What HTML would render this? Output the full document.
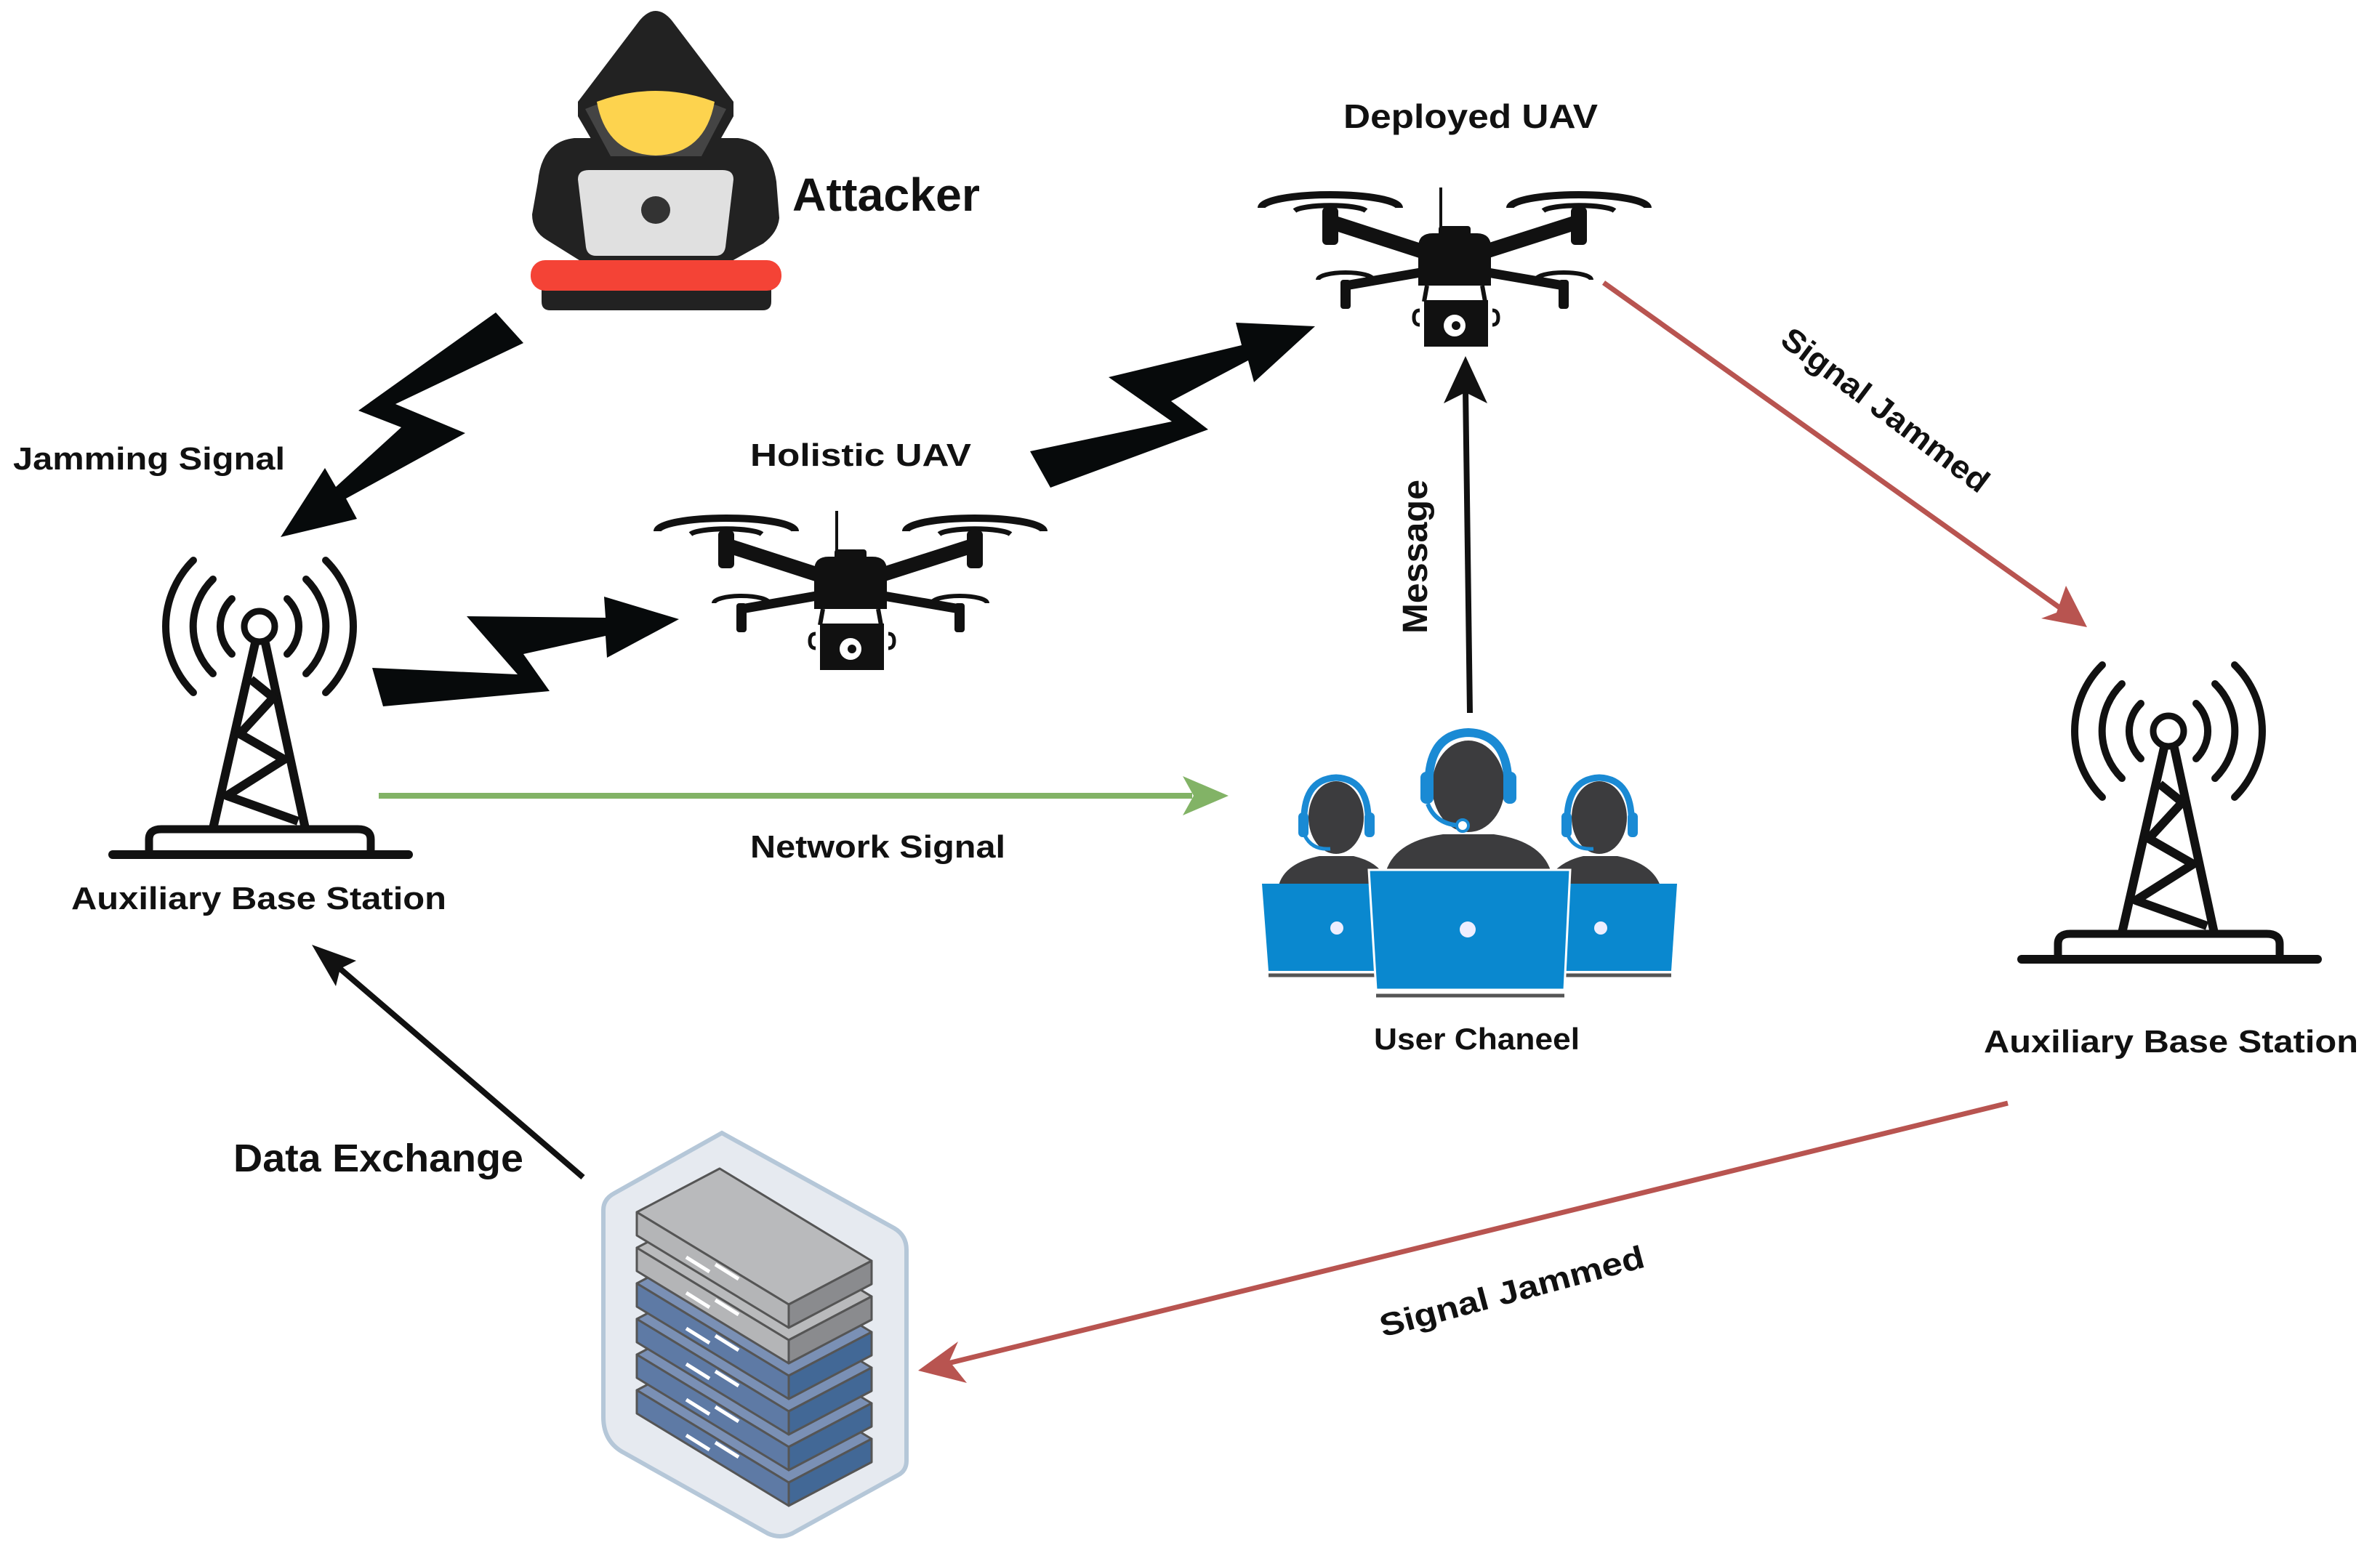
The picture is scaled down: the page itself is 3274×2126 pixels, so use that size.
<!DOCTYPE html>
<html><head><meta charset="utf-8"><style>
html,body{margin:0;padding:0;background:#fff;}
svg{display:block;}
text{font-family:"Liberation Sans",Arial,sans-serif;font-weight:bold;fill:#111;}
</style></head><body>
<svg width="3274" height="2126" viewBox="0 0 3274 2126" xmlns="http://www.w3.org/2000/svg">
<defs>
<g id="tower">
  <g fill="none" stroke="#111" stroke-width="10" stroke-linecap="round">
    <path d="M319,824 A53,53 0 0 0 319,900"/><path d="M395,824 A53,53 0 0 1 395,900"/>
    <path d="M293,797 A91,91 0 0 0 293,927"/><path d="M421,797 A91,91 0 0 1 421,927"/>
    <path d="M266,771 A128,128 0 0 0 266,953"/><path d="M448,771 A128,128 0 0 1 448,953"/>
  </g>
  <g stroke="#111" stroke-width="12" fill="none" stroke-linejoin="round">
    <path d="M351,885 L293,1140 M365,885 L420,1140"/>
    <path d="M345,935 L376,960 L330,1010 L391,1045 L312,1095 L410,1130"/>
  </g>
  <circle cx="357" cy="862" r="21" fill="#fff" stroke="#111" stroke-width="9"/>
  <path d="M205,1172 L205,1155 Q205,1141 222,1141 L492,1141 Q510,1141 510,1155 L510,1172" fill="none" stroke="#111" stroke-width="11"/>
  <line x1="155" y1="1176" x2="562" y2="1176" stroke="#111" stroke-width="12" stroke-linecap="round"/>
</g>
<g id="drone">
  <line x1="1151" y1="703" x2="1151" y2="775" stroke="#111" stroke-width="4"/>
  <g fill="none" stroke="#111">
    <path d="M904,731 A95,18 0 0 1 1094,731" stroke-width="10"/>
    <path d="M950,735 A50,9 0 0 1 1048,735" stroke-width="7"/>
    <path d="M1246,731 A95,18 0 0 1 1436,731" stroke-width="10"/>
    <path d="M1292,735 A50,9 0 0 1 1390,735" stroke-width="7"/>
    <path d="M982,830 A38,10 0 0 1 1058,830" stroke-width="6"/>
    <path d="M1282,830 A38,10 0 0 1 1358,830" stroke-width="6"/>
  </g>
  <g stroke="#111" stroke-linecap="round">
    <line x1="999" y1="750" x2="1169" y2="805" stroke-width="20"/>
    <line x1="1341" y1="750" x2="1169" y2="805" stroke-width="20"/>
    <line x1="1020" y1="838" x2="1169" y2="812" stroke-width="13"/>
    <line x1="1320" y1="838" x2="1169" y2="812" stroke-width="13"/>
  </g>
  <rect x="988" y="730" width="22" height="52" rx="6" fill="#111"/>
  <rect x="1330" y="730" width="22" height="52" rx="6" fill="#111"/>
  <rect x="1013" y="830" width="14" height="40" rx="4" fill="#111"/>
  <rect x="1313" y="830" width="14" height="40" rx="4" fill="#111"/>
  <rect x="1148" y="756" width="44" height="16" rx="4" fill="#111"/>
  <path d="M1120,838 L1120,785 Q1120,766 1140,766 L1200,766 Q1220,766 1220,785 L1220,838 Z" fill="#111"/>
  <path d="M1132,838 L1128,860 M1208,838 L1212,860" stroke="#111" stroke-width="6"/>
  <path d="M1122,872 Q1114,872 1114,882 Q1114,892 1122,892 M1222,872 Q1230,872 1230,882 Q1230,892 1222,892" stroke="#111" stroke-width="5" fill="none"/>
  <rect x="1128" y="858" width="88" height="64" fill="#111"/>
  <circle cx="1170" cy="893" r="15" fill="#fff"/>
  <circle cx="1172" cy="893" r="6" fill="#111"/>
</g>
</defs>

<!-- Attacker -->
<path d="M795,160 L795,140 L880,28 Q902,2 924,28 L1009,140 L1009,160 L975,220 L830,220 Z" fill="#222"/>
<path d="M740,250 Q745,195 790,190 L1015,190 Q1060,195 1068,250 L1072,300 Q1070,320 1050,335 L1005,360 L800,360 L752,330 Q732,318 732,295 Z" fill="#222"/>
<path d="M805,150 Q902,110 999,150 L965,215 L840,215 Z" fill="#444"/>
<path d="M821,140 Q902,110 983,140 Q970,212 902,214 Q834,212 821,140 Z" fill="#fdd34e"/>
<path d="M795,247 Q795,234 810,234 L994,234 Q1009,234 1009,247 L998,340 Q996,352 984,352 L820,352 Q808,352 806,340 Z" fill="#e0e0e0"/>
<ellipse cx="902" cy="289" rx="20" ry="19" fill="#333"/>
<path d="M745,395 L1061,395 L1061,415 Q1061,427 1049,427 L757,427 Q745,427 745,415 Z" fill="#222"/>
<rect x="730" y="358" width="345" height="42" rx="20" fill="#f44336"/>
<text x="1090" y="290" font-size="64" textLength="258" lengthAdjust="spacingAndGlyphs">Attacker</text>

<!-- Jamming bolts -->
<polygon fill="#070a0b" points="682,430 720,472 544,556 640,596 476,686 491,714 386,739 447,644 462,670 552,588 493,565"/>
<polygon fill="#070a0b" points="512,919 712,928 642,848 833,850 831,821 934,852 835,905 833,875 720,900 756,951 527,972"/>
<polygon fill="#070a0b" points="1417,621 1612,580 1525,519 1708,475 1700,444 1809,449 1725,526 1717,496 1611,552 1662,591 1445,671"/>

<text x="18" y="646" font-size="44" textLength="374" lengthAdjust="spacingAndGlyphs">Jamming Signal</text>
<text x="1032" y="641" font-size="44" textLength="304" lengthAdjust="spacingAndGlyphs">Holistic UAV</text>
<text x="1848" y="176" font-size="46" textLength="350" lengthAdjust="spacingAndGlyphs">Deployed UAV</text>

<!-- Towers -->
<use href="#tower"/>
<use href="#tower" transform="translate(2626,144)"/>
<text x="98" y="1251" font-size="44" textLength="516" lengthAdjust="spacingAndGlyphs">Auxiliary Base Station</text>
<text x="2729" y="1448" font-size="44" textLength="515" lengthAdjust="spacingAndGlyphs">Auxiliary Base Station</text>

<!-- Drones -->
<use href="#drone"/>
<use href="#drone" transform="translate(831,-445)"/>

<!-- Network signal -->
<line x1="521" y1="1095" x2="1640" y2="1095" stroke="#82b366" stroke-width="8"/>
<polygon points="1690,1095 1627,1068 1642,1095 1627,1122" fill="#82b366"/>
<text x="1032" y="1180" font-size="44" textLength="351" lengthAdjust="spacingAndGlyphs">Network Signal</text>

<!-- Message arrow -->
<line x1="2022" y1="981" x2="2016" y2="535" stroke="#111" stroke-width="8"/>
<polygon points="2016,490 1986,555 2016,540 2046,555" fill="#111"/>
<text transform="translate(1963,766) rotate(-90)" x="0" y="0" text-anchor="middle" font-size="48" textLength="212" lengthAdjust="spacingAndGlyphs">Message</text>

<!-- User channel -->
<g>
  <ellipse cx="1838" cy="1125" rx="38" ry="50" fill="#3c3c3e"/>
  <path d="M1758,1222 Q1765,1188 1815,1178 L1862,1178 Q1905,1188 1910,1222 Z" fill="#3c3c3e"/>
  <path d="M1794,1140 Q1790,1072 1838,1070 Q1886,1072 1882,1140" fill="none" stroke="#1a8ad4" stroke-width="9"/>
  <rect x="1786" y="1118" width="14" height="34" rx="6" fill="#1a8ad4"/>
  <rect x="1877" y="1118" width="14" height="34" rx="6" fill="#1a8ad4"/>
  <path d="M1795,1150 Q1805,1170 1830,1168" fill="none" stroke="#1a8ad4" stroke-width="5"/>
  <polygon points="1736,1216 1893,1216 1893,1336 1745,1336" fill="#0a88cf"/>
  <circle cx="1839" cy="1277" r="9" fill="#eef"/>
  <line x1="1745" y1="1342" x2="1893" y2="1342" stroke="#555" stroke-width="5"/>
  <ellipse cx="2200" cy="1125" rx="38" ry="50" fill="#3c3c3e"/>
  <path d="M2125,1222 Q2135,1188 2178,1178 L2225,1178 Q2275,1188 2285,1222 Z" fill="#3c3c3e"/>
  <path d="M2156,1140 Q2152,1072 2200,1070 Q2248,1072 2244,1140" fill="none" stroke="#1a8ad4" stroke-width="9"/>
  <rect x="2148" y="1118" width="14" height="34" rx="6" fill="#1a8ad4"/>
  <rect x="2239" y="1118" width="14" height="34" rx="6" fill="#1a8ad4"/>
  <path d="M2157,1150 Q2167,1170 2192,1168" fill="none" stroke="#1a8ad4" stroke-width="5"/>
  <polygon points="2145,1216 2307,1216 2299,1336 2145,1336" fill="#0a88cf"/>
  <circle cx="2202" cy="1277" r="9" fill="#eef"/>
  <line x1="2145" y1="1342" x2="2299" y2="1342" stroke="#555" stroke-width="5"/>
  <ellipse cx="2020" cy="1082" rx="50" ry="63" fill="#3c3c3e"/>
  <path d="M1905,1205 Q1915,1158 1985,1148 L2055,1148 Q2125,1158 2135,1205 Z" fill="#3c3c3e"/>
  <path d="M1966,1095 Q1960,1010 2020,1008 Q2080,1010 2074,1095" fill="none" stroke="#1a8ad4" stroke-width="12"/>
  <rect x="1954" y="1062" width="18" height="44" rx="8" fill="#1a8ad4"/>
  <rect x="2068" y="1062" width="18" height="44" rx="8" fill="#1a8ad4"/>
  <path d="M1964,1106 Q1975,1135 2010,1136" fill="none" stroke="#1a8ad4" stroke-width="6"/>
  <circle cx="2012" cy="1136" r="8" fill="#fff" stroke="#1a8ad4" stroke-width="4"/>
  <polygon points="1883,1197 2160,1197 2152,1362 1893,1362" fill="#0a88cf" stroke="#fff" stroke-width="3"/>
  <circle cx="2019" cy="1279" r="11" fill="#eef"/>
  <line x1="1893" y1="1370" x2="2152" y2="1370" stroke="#555" stroke-width="5"/>
</g>
<text x="1890" y="1444" font-size="42" textLength="283" lengthAdjust="spacingAndGlyphs">User Chaneel</text>

<!-- Signal jammed 1 -->
<line x1="2206" y1="389" x2="2850" y2="848" stroke="#b85450" stroke-width="7"/>
<polygon points="2871,863 2808,851 2829,843 2842,806" fill="#b85450"/>
<text transform="translate(2593,565) rotate(37)" x="0" y="14" text-anchor="middle" font-size="44" textLength="345" lengthAdjust="spacingAndGlyphs">Signal Jammed</text>

<!-- Signal jammed 2 -->
<line x1="2762" y1="1518" x2="1300" y2="1877" stroke="#b85450" stroke-width="7"/>
<polygon points="1263,1886 1318,1846 1306,1873 1330,1903" fill="#b85450"/>
<text transform="translate(2080,1778) rotate(-15)" x="0" y="14" text-anchor="middle" font-size="44" textLength="375" lengthAdjust="spacingAndGlyphs">Signal Jammed</text>

<!-- Data exchange -->
<line x1="802" y1="1620" x2="455" y2="1322" stroke="#111" stroke-width="8"/>
<polygon points="429,1300 490,1322 468,1333 462,1357" fill="#111"/>
<text x="321" y="1612" font-size="54" textLength="399" lengthAdjust="spacingAndGlyphs">Data Exchange</text>

<!-- Server -->
<path d="M993,1559 L1230,1690 Q1247,1700 1247,1720 L1247,2010 Q1247,2024 1235,2030 L1090,2110 Q1073,2118 1056,2110 L860,2000 Q830,1985 830,1950 L830,1665 Q830,1650 845,1642 Z" fill="#e6eaf0" stroke="#b5c7d8" stroke-width="6"/>
<g stroke="#555" stroke-width="3" stroke-linejoin="round">
  <g transform="translate(0,245)">
    <polygon points="876,1668 990,1608 1199,1735 1085,1795" fill="#7a90b5"/>
    <polygon points="876,1668 1085,1795 1085,1827 876,1700" fill="#5e7aa5"/>
    <polygon points="1085,1795 1199,1735 1199,1767 1085,1827" fill="#426896"/>
  </g>
  <g transform="translate(0,196)">
    <polygon points="876,1668 990,1608 1199,1735 1085,1795" fill="#7a90b5"/>
    <polygon points="876,1668 1085,1795 1085,1827 876,1700" fill="#5e7aa5"/>
    <polygon points="1085,1795 1199,1735 1199,1767 1085,1827" fill="#426896"/>
  </g>
  <g transform="translate(0,147)">
    <polygon points="876,1668 990,1608 1199,1735 1085,1795" fill="#7a90b5"/>
    <polygon points="876,1668 1085,1795 1085,1827 876,1700" fill="#5e7aa5"/>
    <polygon points="1085,1795 1199,1735 1199,1767 1085,1827" fill="#426896"/>
  </g>
  <g transform="translate(0,98)">
    <polygon points="876,1668 990,1608 1199,1735 1085,1795" fill="#7a90b5"/>
    <polygon points="876,1668 1085,1795 1085,1827 876,1700" fill="#5e7aa5"/>
    <polygon points="1085,1795 1199,1735 1199,1767 1085,1827" fill="#426896"/>
  </g>
  <g transform="translate(0,49)">
    <polygon points="876,1668 990,1608 1199,1735 1085,1795" fill="#b9babc"/>
    <polygon points="876,1668 1085,1795 1085,1827 876,1700" fill="#b4b5b7"/>
    <polygon points="1085,1795 1199,1735 1199,1767 1085,1827" fill="#8a8b8e"/>
  </g>
  <g>
    <polygon points="876,1668 990,1608 1199,1735 1085,1795" fill="#b9babc"/>
    <polygon points="876,1668 1085,1795 1085,1827 876,1700" fill="#b4b5b7"/>
    <polygon points="1085,1795 1199,1735 1199,1767 1085,1827" fill="#8a8b8e"/>
  </g>
</g>
<g stroke="#fff" stroke-width="5">
  <path d="M944,1730 L976,1750 M984,1740 L1016,1760"/>
  <path d="M944,1779 L976,1799 M984,1789 L1016,1809"/>
  <path d="M944,1828 L976,1848 M984,1838 L1016,1858"/>
  <path d="M944,1877 L976,1897 M984,1887 L1016,1907"/>
  <path d="M944,1926 L976,1946 M984,1936 L1016,1956"/>
  <path d="M944,1975 L976,1995 M984,1985 L1016,2005"/>
</g>
</svg>
</body></html>
